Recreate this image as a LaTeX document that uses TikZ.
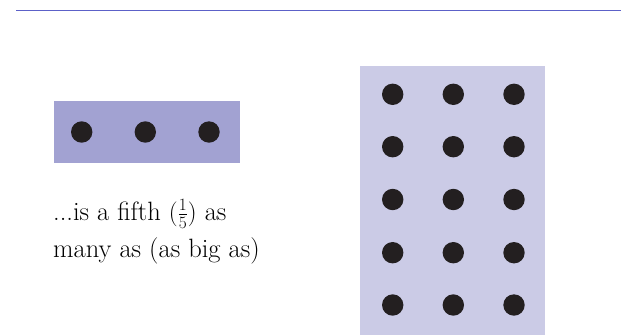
\documentclass[tikz,border=0pt]{standalone}
\usepackage{tikz}
\usetikzlibrary{positioning}
\definecolor{ruleblue}{RGB}{92,97,200}
\definecolor{smallbg}{RGB}{162,162,210}
\definecolor{bigbg}{RGB}{203,203,230}
\definecolor{dotblack}{RGB}{35,31,32}

\begin{document}
\begin{tikzpicture}[
        x=1pt, y=-1pt,
        smallbox/.style={rectangle, fill=smallbg, minimum width=186pt, minimum height=61.5pt, inner sep=0pt},
        bigbox/.style={rectangle, fill=bigbg, minimum width=185pt, minimum height=269pt, inner sep=0pt},
        dot/.style={circle, fill=dotblack, minimum size=21.4pt, inner sep=0pt},
        caption/.style={anchor=base west, align=left, inner sep=0pt, font=\fontsize{26.5}{37}\selectfont}
    ]
        \useasboundingbox (0,0) rectangle (621,335);
        \draw [ruleblue, line width=1.8pt] (16,10.5) -- (621,10.5);

        \node [smallbox] (small) at (147,131.75) {};
        \node [bigbox] (big) at (452.5,200.5) {};

        % dots in the small box
        \foreach \i/\x in {1/81.7, 2/145.3, 3/209}
            \node [dot] (s\i) at (\x,132) {};

        % dots in the big box
        \foreach \r/\y in {1/94.3, 2/146.7, 3/199.5, 4/252.7, 5/305}
            \foreach \c/\x in {1/392.7, 2/453.3, 3/514}
                \node [dot] (b\r\c) at (\x,\y) {};

        \node [caption] (text) at (53,257) {...is a fifth $(\frac{1}{5})$ as\\many as (as big as)};
    \end{tikzpicture}
\end{document}
